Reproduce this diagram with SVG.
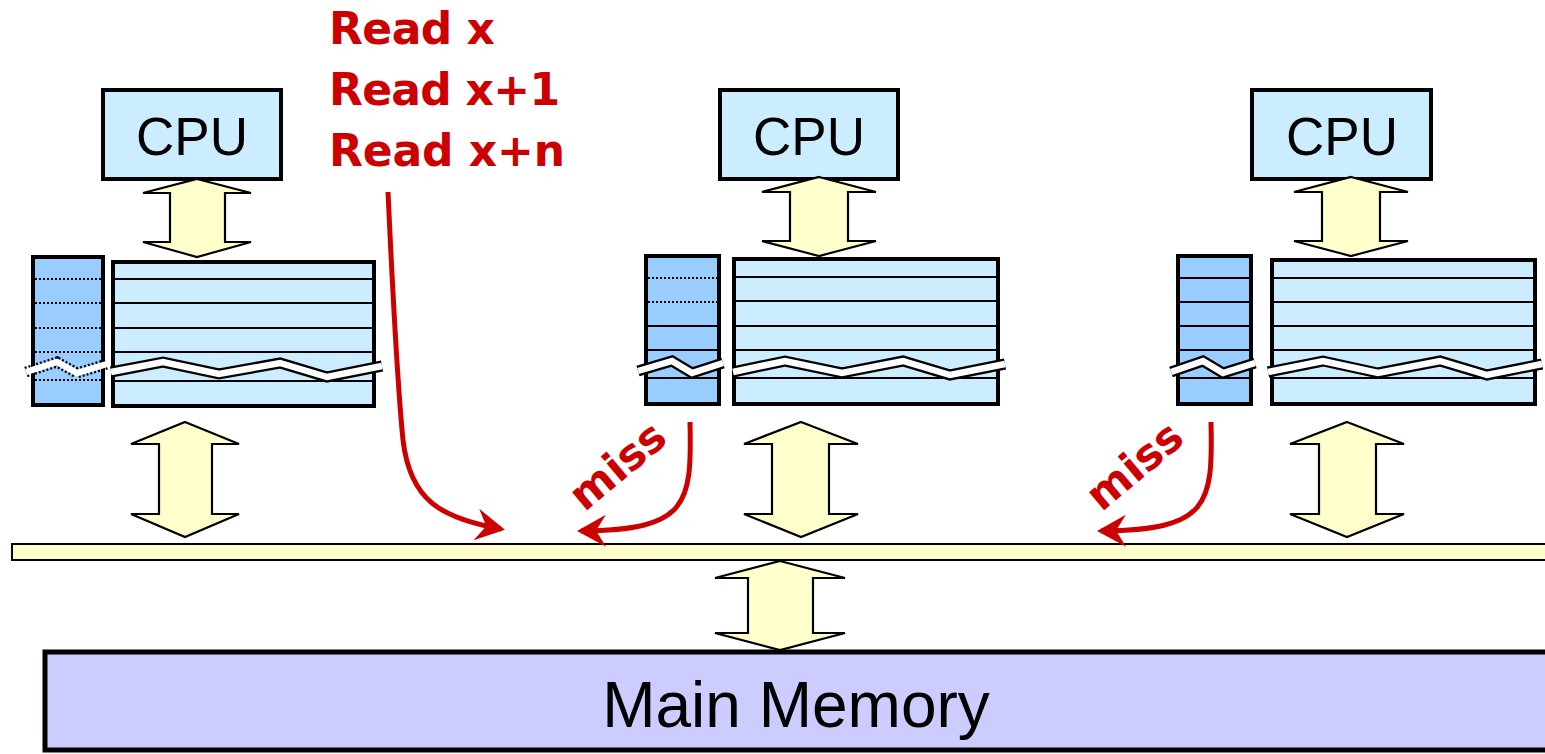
<svg xmlns="http://www.w3.org/2000/svg" width="1545" height="754" viewBox="0 0 1545 754">
<defs>
<style>
.cpu{fill:#CCECFF;stroke:#000;stroke-width:4}
.cput{font-family:"Liberation Sans",Arial,sans-serif;font-size:53px;fill:#000;text-anchor:middle}
.tag{fill:#99CCFF;stroke:#000;stroke-width:4}
.data{fill:#CCECFF;stroke:#000;stroke-width:4}
.ln{stroke:#000;stroke-width:2;fill:none}
.dot{stroke:#000;stroke-width:2;stroke-dasharray:2 2;fill:none}
.zzb{fill:none;stroke:#000;stroke-width:11;stroke-linejoin:miter}
.zzd{fill:none;stroke:#000;stroke-width:11;stroke-dasharray:2 2;stroke-linejoin:miter}
.zzw{fill:none;stroke:#fff;stroke-width:6.5;stroke-linejoin:miter}
.dbl{fill:#FFFFCC;stroke:#000;stroke-width:2.2;stroke-linejoin:miter}
.red{fill:none;stroke:#CC0000;stroke-width:5}
.rt{font-family:"DejaVu Sans",Verdana,sans-serif;font-weight:bold;font-size:44px;fill:#CC0000}
.miss{font-family:"DejaVu Sans",Verdana,sans-serif;font-weight:bold;font-size:43px;fill:#CC0000;text-anchor:middle}
</style>
<marker id="ah" markerUnits="userSpaceOnUse" markerWidth="40" markerHeight="40" viewBox="-30 -20 40 40" refX="0" refY="0" orient="auto">
<path d="M4,0 L-25,-16 L-15,0 L-25,16 Z" fill="#CC0000"/>
</marker>
</defs>
<rect width="1545" height="754" fill="#fff"/>

<g id="bus">
<rect x="12" y="544" width="1540" height="16" fill="#FFFFCC" stroke="#000" stroke-width="2"/>
</g>

<g id="memory">
<rect x="45" y="652" width="1510" height="98" fill="#CCCCFF" stroke="#000" stroke-width="5"/>
<text x="796" y="727" font-family="'Liberation Sans',Arial,sans-serif" font-size="64" text-anchor="middle">Main Memory</text>
</g>

<g id="cpu1">
<rect class="cpu" x="103" y="90" width="178" height="89"/>
<text class="cput" x="192" y="155">CPU</text>
</g>
<g id="cpu2">
<rect class="cpu" x="720" y="90" width="178" height="89"/>
<text class="cput" x="809" y="155">CPU</text>
</g>
<g id="cpu3">
<rect class="cpu" x="1252" y="90" width="179" height="89"/>
<text class="cput" x="1342" y="155">CPU</text>
</g>

<g id="cache1">
<rect class="tag" x="33" y="257" width="70" height="148"/>
<path class="dot" d="M35 279H101M35 303H101M35 328H101M35 352H101M35 380H101"/>
<rect class="data" x="113" y="262" width="261" height="144"/>
<path class="ln" d="M115 279H372M115 303H372M115 328H372M115 352H372M115 381H372"/>
<polyline class="zzd" points="26,372 57,362 77,373 107,364"/>
<polyline class="zzw" points="26,372 57,362 77,373 107,364"/>
<polyline class="zzb" points="111,372 163,362 219,374 280,363 327,377 382,366"/>
<polyline class="zzw" points="111,372 163,362 219,374 280,363 327,377 382,366"/>
</g>

<g id="cache2">
<rect class="tag" x="646" y="256" width="73" height="148"/>
<path class="dot" d="M648 278H717M648 302H717"/>
<path class="ln" d="M648 326H717M648 350H717M648 378H717"/>
<rect class="data" x="734" y="259" width="264" height="145"/>
<path class="ln" d="M736 277H996M736 301H996M736 326H996M736 350H996M736 378H996"/>
<polyline class="zzb" points="638,371 672,361 692,373 723,363"/>
<polyline class="zzw" points="638,371 672,361 692,373 723,363"/>
<polyline class="zzb" points="733,372 785,361 842,373 903,361 950,375 1005,364"/>
<polyline class="zzw" points="733,372 785,361 842,373 903,361 950,375 1005,364"/>
</g>

<g id="cache3">
<rect class="tag" x="1178" y="256" width="73" height="148"/>
<path class="ln" d="M1180 278H1249M1180 302H1249M1180 326H1249M1180 350H1249M1180 378H1249"/>
<rect class="data" x="1272" y="260" width="263" height="144"/>
<path class="ln" d="M1274 278H1533M1274 302H1533M1274 326H1533M1274 350H1533M1274 378H1533"/>
<polyline class="zzb" points="1171,372 1203,361 1223,373 1255,363"/>
<polyline class="zzw" points="1171,372 1203,361 1223,373 1255,363"/>
<polyline class="zzb" points="1268,372 1323,361 1378,373 1440,361 1487,375 1542,364"/>
<polyline class="zzw" points="1268,372 1323,361 1378,373 1440,361 1487,375 1542,364"/>
</g>

<g id="reads">
<text class="rt" x="329" y="44" textLength="166" lengthAdjust="spacing">Read x</text>
<text class="rt" x="329" y="105" textLength="231" lengthAdjust="spacing">Read x+1</text>
<text class="rt" x="329" y="166" textLength="236" lengthAdjust="spacing">Read x+n</text>
</g>

<g id="miss-labels">
<text class="miss" transform="translate(627,477) rotate(-40)">miss</text>
<text class="miss" transform="translate(1144,477) rotate(-40)">miss</text>
</g>

<g id="connectors">
<polygon class="dbl" points="197,179 251,193 225,193 225,242 251,242 197,257 143,242 170,242 170,193 143,193"/>
<polygon class="dbl" points="819,177 876,192 848,192 848,241 876,241 819,256 762,241 790,241 790,192 762,192"/>
<polygon class="dbl" points="1351,177 1408,192 1380,192 1380,241 1408,241 1351,256 1294,241 1322,241 1322,192 1294,192"/>
<polygon class="dbl" points="185,422 239,444 212,444 212,514 239,514 185,537 131,514 159,514 159,444 131,444"/>
<polygon class="dbl" points="801,422 858,444 829,444 829,514 858,514 801,537 744,514 772,514 772,444 744,444"/>
<polygon class="dbl" points="1347,422 1404,444 1376,444 1376,514 1404,514 1347,537 1290,514 1319,514 1319,444 1290,444"/>
<polygon class="dbl" points="780,561 845,578 813,578 813,633 845,633 780,650 715,633 748,633 748,578 715,578"/>
<path class="red" marker-end="url(#ah)" d="M388 192 C393 300,398 390,403 440 C410 500,440 518,501 529"/>
<path class="red" marker-end="url(#ah)" d="M690 422 C692 505,688 530,581 531"/>
<path class="red" marker-end="url(#ah)" d="M1211 422 C1213 505,1209 530,1101 531"/>
</g>
</svg>
